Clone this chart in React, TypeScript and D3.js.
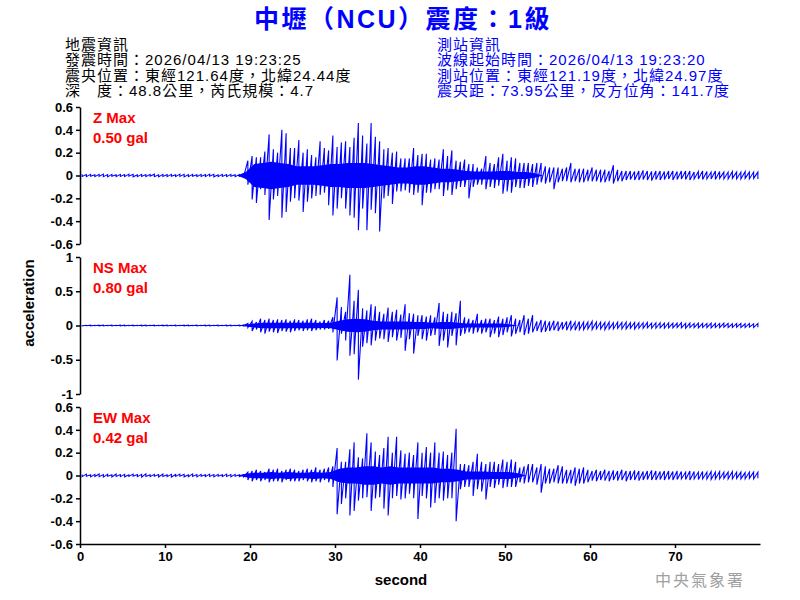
import React, { useEffect, useRef } from 'react';
import * as d3 from 'd3';

// 每 0.5 秒一格，記錄該格的最大值與最小值 (gal)
const STEP = 0.5;

const zHi = [
  0.01, 0.008, 0.01, 0.006, 0.01, 0.012, 0.008, 0.01, 0.006, 0.01,
  0.008, 0.012, 0.01, 0.006, 0.01, 0.008, 0.01, 0.012, 0.006, 0.01,
  0.008, 0.01, 0.006, 0.012, 0.01, 0.008, 0.01, 0.006, 0.01, 0.008,
  0.012, 0.01, 0.006, 0.01, 0.008, 0.01, 0.006, 0.008, 0.01, 0.13,
  0.17, 0.16, 0.16, 0.21, 0.36, 0.23, 0.2, 0.4, 0.37, 0.24,
  0.24, 0.31, 0.2, 0.23, 0.18, 0.16, 0.3, 0.24, 0.22, 0.35,
  0.25, 0.29, 0.3, 0.25, 0.33, 0.46, 0.35, 0.28, 0.46, 0.34,
  0.3, 0.23, 0.24, 0.2, 0.21, 0.15, 0.15, 0.15, 0.24, 0.18,
  0.19, 0.19, 0.14, 0.15, 0.14, 0.23, 0.17, 0.22, 0.13, 0.12,
  0.14, 0.1, 0.1, 0.07, 0.06, 0.17, 0.11, 0.1, 0.16, 0.19,
  0.13, 0.16, 0.15, 0.11, 0.11, 0.11, 0.1, 0.11, 0.11, 0.08,
  0.07, 0.07, 0.07, 0.06, 0.07, 0.11, 0.06, 0.06, 0.06, 0.05,
  0.07, 0.05, 0.05, 0.05, 0.04, 0.09, 0.05, 0.04, 0.04, 0.04,
  0.035, 0.04, 0.045, 0.04, 0.035, 0.04, 0.04, 0.035, 0.04, 0.04,
  0.035, 0.04, 0.04, 0.04, 0.03, 0.035, 0.04, 0.035, 0.03, 0.04,
  0.035, 0.03, 0.03, 0.035, 0.03, 0.03, 0.035, 0.03, 0.03, 0.03,
];
const zLo = [
  -0.008, -0.01, -0.006, -0.01, -0.008, -0.01, -0.012, -0.006, -0.01, -0.008,
  -0.01, -0.006, -0.012, -0.01, -0.008, -0.01, -0.006, -0.01, -0.012, -0.008,
  -0.01, -0.006, -0.01, -0.008, -0.012, -0.01, -0.006, -0.01, -0.008, -0.01,
  -0.006, -0.012, -0.01, -0.008, -0.01, -0.006, -0.01, -0.008, -0.01, -0.08,
  -0.21, -0.24, -0.12, -0.17, -0.39, -0.21, -0.18, -0.37, -0.32, -0.23,
  -0.2, -0.22, -0.32, -0.23, -0.2, -0.18, -0.17, -0.15, -0.26, -0.35,
  -0.29, -0.2, -0.29, -0.35, -0.37, -0.48, -0.29, -0.48, -0.3, -0.33,
  -0.49, -0.2, -0.18, -0.25, -0.14, -0.14, -0.13, -0.15, -0.17, -0.15,
  -0.26, -0.15, -0.15, -0.12, -0.12, -0.18, -0.13, -0.17, -0.12, -0.1,
  -0.1, -0.2, -0.1, -0.08, -0.08, -0.12, -0.1, -0.11, -0.09, -0.16,
  -0.14, -0.15, -0.1, -0.11, -0.11, -0.09, -0.1, -0.08, -0.06, -0.07,
  -0.06, -0.12, -0.06, -0.05, -0.05, -0.06, -0.05, -0.06, -0.06, -0.05,
  -0.05, -0.05, -0.06, -0.06, -0.05, -0.07, -0.05, -0.05, -0.04, -0.035,
  -0.04, -0.04, -0.035, -0.04, -0.045, -0.035, -0.04, -0.035, -0.03, -0.04,
  -0.035, -0.03, -0.035, -0.04, -0.03, -0.03, -0.035, -0.03, -0.03, -0.035,
  -0.025, -0.03, -0.03, -0.025, -0.03, -0.03, -0.025, -0.03, -0.025, -0.03,
];

const nsHi = [
  0.004, 0.003, 0.005, 0.003, 0.004, 0.005, 0.003, 0.004, 0.003, 0.005,
  0.004, 0.003, 0.005, 0.003, 0.004, 0.005, 0.003, 0.004, 0.003, 0.005,
  0.004, 0.003, 0.005, 0.003, 0.004, 0.005, 0.003, 0.004, 0.003, 0.005,
  0.004, 0.003, 0.005, 0.003, 0.004, 0.005, 0.003, 0.004, 0.005, 0.03,
  0.06, 0.05, 0.1, 0.08, 0.1, 0.08, 0.09, 0.08, 0.09, 0.07,
  0.09, 0.08, 0.07, 0.09, 0.1, 0.08, 0.06, 0.08, 0.07, 0.12,
  0.41, 0.27, 0.2, 0.74, 0.36, 0.52, 0.25, 0.22, 0.31, 0.28,
  0.2, 0.17, 0.26, 0.2, 0.23, 0.16, 0.31, 0.18, 0.17, 0.15,
  0.15, 0.13, 0.15, 0.12, 0.33, 0.2, 0.17, 0.2, 0.18, 0.36,
  0.12, 0.1, 0.08, 0.17, 0.08, 0.1, 0.1, 0.08, 0.13, 0.1,
  0.12, 0.15, 0.1, 0.08, 0.15, 0.1, 0.15, 0.06, 0.08, 0.07,
  0.06, 0.07, 0.06, 0.05, 0.06, 0.07, 0.05, 0.06, 0.05, 0.05,
  0.06, 0.05, 0.05, 0.045, 0.05, 0.04, 0.05, 0.045, 0.05, 0.04,
  0.045, 0.04, 0.04, 0.045, 0.035, 0.04, 0.04, 0.035, 0.04, 0.035,
  0.035, 0.04, 0.03, 0.035, 0.03, 0.035, 0.03, 0.03, 0.035, 0.03,
  0.03, 0.035, 0.03, 0.025, 0.03, 0.03, 0.025, 0.03, 0.025, 0.03,
];
const nsLo = [
  -0.004, -0.003, -0.005, -0.003, -0.004, -0.005, -0.003, -0.004, -0.003, -0.005,
  -0.004, -0.003, -0.005, -0.003, -0.004, -0.005, -0.003, -0.004, -0.003, -0.005,
  -0.004, -0.003, -0.005, -0.003, -0.004, -0.005, -0.003, -0.004, -0.003, -0.005,
  -0.004, -0.003, -0.005, -0.003, -0.004, -0.005, -0.003, -0.004, -0.005, -0.03,
  -0.08, -0.06, -0.1, -0.12, -0.09, -0.1, -0.11, -0.08, -0.09, -0.1,
  -0.08, -0.07, -0.08, -0.07, -0.08, -0.07, -0.06, -0.06, -0.05, -0.1,
  -0.51, -0.12, -0.22, -0.44, -0.42, -0.79, -0.31, -0.26, -0.29, -0.22,
  -0.19, -0.2, -0.24, -0.17, -0.22, -0.18, -0.37, -0.2, -0.41, -0.15,
  -0.2, -0.22, -0.15, -0.14, -0.3, -0.22, -0.32, -0.15, -0.29, -0.15,
  -0.12, -0.1, -0.12, -0.1, -0.12, -0.1, -0.17, -0.12, -0.17, -0.14,
  -0.1, -0.16, -0.12, -0.1, -0.14, -0.12, -0.1, -0.08, -0.1, -0.09,
  -0.08, -0.07, -0.08, -0.06, -0.07, -0.06, -0.07, -0.06, -0.06, -0.05,
  -0.06, -0.05, -0.05, -0.06, -0.05, -0.05, -0.04, -0.05, -0.05, -0.04,
  -0.05, -0.04, -0.04, -0.035, -0.04, -0.04, -0.035, -0.04, -0.035, -0.035,
  -0.03, -0.035, -0.04, -0.03, -0.03, -0.035, -0.03, -0.03, -0.035, -0.03,
  -0.03, -0.025, -0.03, -0.03, -0.025, -0.03, -0.03, -0.025, -0.03, -0.025,
];

const ewHi = [
  0.008, 0.012, 0.006, 0.01, 0.014, 0.008, 0.01, 0.006, 0.012, 0.008,
  0.01, 0.006, 0.012, 0.008, 0.01, 0.014, 0.006, 0.01, 0.008, 0.012,
  0.006, 0.01, 0.008, 0.012, 0.01, 0.006, 0.014, 0.008, 0.01, 0.006,
  0.012, 0.008, 0.01, 0.006, 0.012, 0.008, 0.01, 0.006, 0.008, 0.03,
  0.04, 0.05, 0.04, 0.03, 0.06, 0.05, 0.06, 0.04, 0.05, 0.06,
  0.05, 0.04, 0.05, 0.06, 0.05, 0.07, 0.05, 0.06, 0.07, 0.08,
  0.24, 0.12, 0.12, 0.23, 0.29, 0.16, 0.15, 0.37, 0.29, 0.21,
  0.18, 0.24, 0.34, 0.2, 0.34, 0.22, 0.19, 0.2, 0.18, 0.29,
  0.2, 0.25, 0.2, 0.29, 0.2, 0.21, 0.18, 0.2, 0.41, 0.1,
  0.1, 0.09, 0.12, 0.19, 0.12, 0.1, 0.12, 0.12, 0.1, 0.14,
  0.12, 0.14, 0.12, 0.07, 0.08, 0.1, 0.1, 0.07, 0.1, 0.08,
  0.06, 0.06, 0.09, 0.08, 0.05, 0.05, 0.07, 0.06, 0.07, 0.05,
  0.04, 0.05, 0.04, 0.05, 0.04, 0.045, 0.04, 0.05, 0.04, 0.04,
  0.045, 0.04, 0.035, 0.04, 0.045, 0.04, 0.035, 0.04, 0.04, 0.035,
  0.04, 0.035, 0.03, 0.04, 0.035, 0.03, 0.035, 0.03, 0.035, 0.03,
  0.035, 0.03, 0.03, 0.035, 0.03, 0.03, 0.025, 0.03, 0.03, 0.03,
];
const ewLo = [
  -0.01, -0.006, -0.012, -0.008, -0.01, -0.014, -0.006, -0.012, -0.008, -0.01,
  -0.012, -0.008, -0.006, -0.01, -0.014, -0.008, -0.01, -0.006, -0.012, -0.008,
  -0.01, -0.014, -0.008, -0.006, -0.012, -0.01, -0.008, -0.012, -0.006, -0.01,
  -0.008, -0.012, -0.006, -0.01, -0.008, -0.012, -0.006, -0.01, -0.012, -0.04,
  -0.05, -0.04, -0.05, -0.04, -0.06, -0.05, -0.05, -0.06, -0.04, -0.05,
  -0.05, -0.05, -0.04, -0.05, -0.06, -0.05, -0.06, -0.04, -0.06, -0.1,
  -0.34, -0.25, -0.2, -0.35, -0.31, -0.22, -0.2, -0.19, -0.31, -0.2,
  -0.19, -0.29, -0.35, -0.2, -0.18, -0.21, -0.2, -0.16, -0.2, -0.38,
  -0.18, -0.2, -0.28, -0.24, -0.2, -0.22, -0.2, -0.2, -0.4, -0.12,
  -0.1, -0.1, -0.18, -0.12, -0.14, -0.21, -0.1, -0.11, -0.08, -0.11,
  -0.1, -0.1, -0.1, -0.06, -0.07, -0.06, -0.06, -0.08, -0.15, -0.07,
  -0.07, -0.06, -0.07, -0.07, -0.07, -0.07, -0.09, -0.07, -0.07, -0.06,
  -0.045, -0.05, -0.04, -0.045, -0.05, -0.04, -0.045, -0.04, -0.05, -0.04,
  -0.04, -0.045, -0.04, -0.035, -0.04, -0.04, -0.035, -0.04, -0.035, -0.04,
  -0.035, -0.03, -0.035, -0.04, -0.03, -0.035, -0.03, -0.03, -0.035, -0.03,
  -0.03, -0.025, -0.03, -0.03, -0.025, -0.03, -0.03, -0.025, -0.03, -0.025,
];

// 每 1 秒，密集振動的半幅 (波形中間看起來是實心的部分)
const zCore = [
  0, 0, 0, 0, 0, 0, 0, 0, 0, 0,
  0, 0, 0, 0, 0, 0, 0, 0, 0, 0.03,
  0.1, 0.11, 0.12, 0.11, 0.1, 0.08, 0.08, 0.08, 0.09, 0.1,
  0.1, 0.11, 0.11, 0.11, 0.1, 0.09, 0.08, 0.07, 0.07, 0.08,
  0.08, 0.07, 0.06, 0.06, 0.05, 0.04, 0.035, 0.035, 0.035, 0.04,
  0.04, 0.03, 0.03, 0.02, 0, 0, 0, 0, 0, 0,
  0, 0, 0, 0, 0, 0, 0, 0, 0, 0,
  0, 0, 0, 0, 0, 0, 0, 0, 0, 0,
];
const nsCore = [
  0, 0, 0, 0, 0, 0, 0, 0, 0, 0,
  0, 0, 0, 0, 0, 0, 0, 0, 0, 0.015,
  0.03, 0.04, 0.04, 0.04, 0.04, 0.04, 0.04, 0.04, 0.035, 0.04,
  0.07, 0.09, 0.1, 0.09, 0.07, 0.06, 0.06, 0.06, 0.06, 0.05,
  0.05, 0.04, 0.05, 0.05, 0.04, 0.03, 0.03, 0.03, 0.03, 0.03,
  0.02, 0, 0, 0, 0, 0, 0, 0, 0, 0,
  0, 0, 0, 0, 0, 0, 0, 0, 0, 0,
  0, 0, 0, 0, 0, 0, 0, 0, 0, 0,
];
const ewCore = [
  0, 0, 0, 0, 0, 0, 0, 0, 0, 0,
  0, 0, 0, 0, 0, 0, 0, 0, 0, 0.015,
  0.025, 0.025, 0.03, 0.025, 0.03, 0.025, 0.025, 0.03, 0.025, 0.03,
  0.06, 0.07, 0.07, 0.08, 0.08, 0.07, 0.08, 0.07, 0.07, 0.07,
  0.07, 0.07, 0.06, 0.06, 0.05, 0.035, 0.035, 0.035, 0.03, 0.03,
  0.03, 0.02, 0, 0, 0, 0, 0, 0, 0, 0,
  0, 0, 0, 0, 0, 0, 0, 0, 0, 0,
  0, 0, 0, 0, 0, 0, 0, 0, 0, 0,
];

const smallTicks = [-0.6, -0.4, -0.2, 0, 0.2, 0.4, 0.6];
const nsTicks = [-1, -0.5, 0, 0.5, 1];
const xTicks = [0, 10, 20, 30, 40, 50, 60, 70];

const channels = [
  { label: 'Z Max', peak: '0.50 gal', hi: zHi, lo: zLo, core: zCore, ticks: smallTicks },
  { label: 'NS Max', peak: '0.80 gal', hi: nsHi, lo: nsLo, core: nsCore, ticks: nsTicks },
  { label: 'EW Max', peak: '0.42 gal', hi: ewHi, lo: ewLo, core: ewCore, ticks: smallTicks },
];

const quakeInfo = [
  '地震資訊',
  '發震時間：2026/04/13 19:23:25',
  '震央位置：東經121.64度，北緯24.44度',
  '深\u3000度：48.8公里，芮氏規模：4.7',
];
const stationInfo = [
  '測站資訊',
  '波線起始時間：2026/04/13 19:23:20',
  '測站位置：東經121.19度，北緯24.97度',
  '震央距：73.95公里，反方位角：141.7度',
];

const FONT = "'Liberation Sans', Arial, 'Noto Sans CJK TC', sans-serif";
const BLUE = '#0000ff';

function App() {
  const ref = useRef<SVGSVGElement>(null);

  useEffect(() => {
    const svg = d3.select(ref.current);
    svg.selectAll('*').remove();
    svg.style('font-family', FONT);

    const left = 80, right = 760;
    const panelTops = [107, 257, 407];
    const panelH = 137;

    const x = d3.scaleLinear().domain([0, 80]).range([left, right]);

    // 標題
    svg.append('text')
      .attr('x', 403).attr('y', 28)
      .attr('text-anchor', 'middle')
      .attr('font-size', 25).attr('font-weight', 'bold')
      .attr('letter-spacing', 2.5)
      .attr('fill', BLUE)
      .text('中壢（NCU）震度：1級');

    // 地震 / 測站資訊
    const info = (lines: string[], x0: number, color: string) => {
      svg.append('g').selectAll('text')
        .data(lines).enter().append('text')
        .attr('x', x0)
        .attr('y', (d, i) => 50 + i * 15.3)
        .attr('font-size', 15)
        .attr('letter-spacing', 1)
        .attr('fill', color)
        .text(d => d);
    };
    info(quakeInfo, 65, '#000');
    info(stationInfo, 437, BLUE);

    const fmt = (d: d3.NumberValue) => String(+(+d).toFixed(1));

    channels.forEach((ch, k) => {
      const top = panelTops[k];
      const ext = d3.max(ch.ticks) as number;
      const y = d3.scaleLinear().domain([-ext, ext]).range([top + panelH, top]);

      const yAxis = svg.append('g')
        .attr('transform', `translate(${left},0)`)
        .call(d3.axisLeft(y).tickValues(ch.ticks).tickSize(4).tickSizeOuter(0).tickPadding(3).tickFormat(fmt));
      yAxis.select('.domain').attr('stroke-width', 1.5);
      yAxis.selectAll('.tick line').attr('stroke-width', 1.5);
      yAxis.selectAll('.tick text')
        .attr('font-size', 13).attr('font-weight', 'bold').attr('font-family', FONT).attr('fill', '#000');

      // 密集振動區
      const core = d3.area<number>()
        .x((d, i) => x(i + 0.5))
        .y0(d => y(-d))
        .y1(d => y(d));
      svg.append('path')
        .attr('d', core(ch.core) as string)
        .attr('fill', BLUE);

      // 波形：每格畫一條最大到最小的豎線，再接到下一格
      const pts: [number, number][] = [];
      const n = Math.min(ch.hi.length, ch.lo.length);
      for (let i = 0; i < n; i++) {
        const t = i * STEP + STEP / 2;
        pts.push([t, ch.hi[i]]);
        pts.push([t, ch.lo[i]]);
      }
      const line = d3.line<[number, number]>().x(d => x(d[0])).y(d => y(d[1]));
      svg.append('path')
        .attr('d', line(pts) as string)
        .attr('fill', 'none')
        .attr('stroke', BLUE)
        .attr('stroke-width', 1.1);

      svg.append('text')
        .attr('x', 93).attr('y', top + 16)
        .attr('font-size', 15).attr('font-weight', 'bold').attr('fill', '#ff0000')
        .text(ch.label);
      svg.append('text')
        .attr('x', 93).attr('y', top + 36)
        .attr('font-size', 15).attr('font-weight', 'bold').attr('fill', '#ff0000')
        .text(ch.peak);
    });

    // x 軸
    const xAxis = svg.append('g')
      .attr('transform', `translate(0,${panelTops[2] + panelH})`)
      .call(d3.axisBottom(x).tickValues(xTicks).tickSize(4).tickSizeOuter(0).tickPadding(4).tickFormat(d => String(d)));
    xAxis.select('.domain').attr('stroke-width', 1.5);
    xAxis.selectAll('.tick line').attr('stroke-width', 1.5);
    xAxis.selectAll('.tick text')
      .attr('font-size', 13).attr('font-weight', 'bold').attr('font-family', FONT).attr('fill', '#000');

    svg.append('text')
      .attr('x', 401).attr('y', 585)
      .attr('text-anchor', 'middle')
      .attr('font-size', 15).attr('font-weight', 'bold')
      .text('second');

    svg.append('text')
      .attr('transform', 'translate(34,303) rotate(-90)')
      .attr('text-anchor', 'middle')
      .attr('font-size', 15).attr('font-weight', 'bold')
      .text('acceleration');

    svg.append('text')
      .attr('x', 700).attr('y', 586)
      .attr('text-anchor', 'middle')
      .attr('font-size', 16).attr('letter-spacing', 2)
      .attr('fill', '#a0a0a0')
      .text('中央氣象署');
  }, []);

  return (
    <svg ref={ref} width={800} height={600}
         style={{ position: 'absolute', left: 0, top: 0, background: '#fff' }} />
  );
}

export default App;
